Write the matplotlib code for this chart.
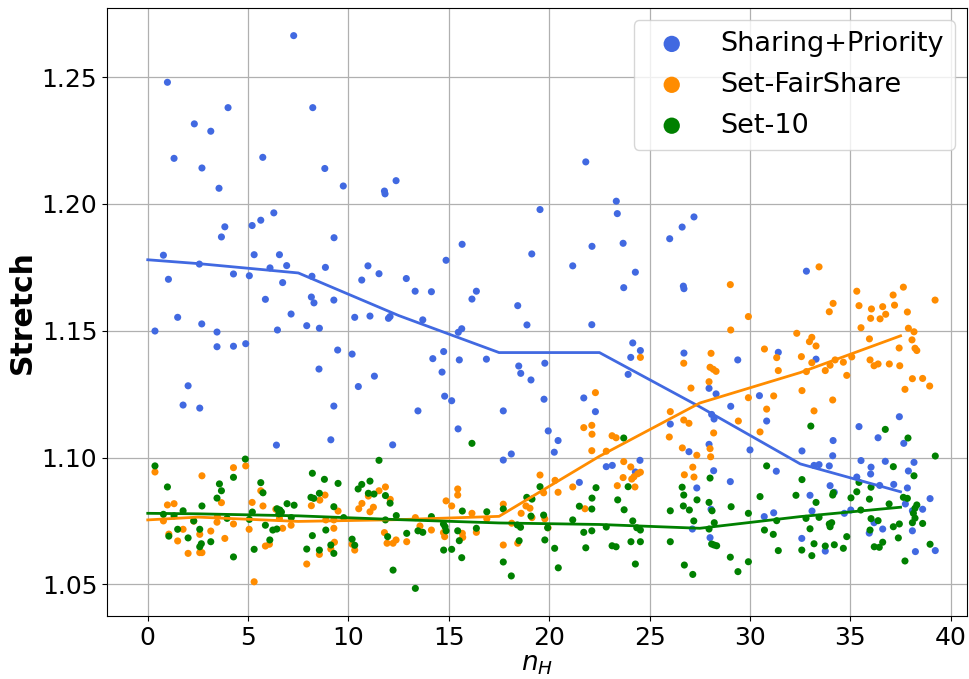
import matplotlib
matplotlib.use("Agg")
import matplotlib.pyplot as plt

# ---------------- data ----------------
sp_x = [7.27, 0.98, 4.0, 8.22, 2.32, 3.14, 1.31, 5.73, 2.70, 8.82, 3.55, 6.28, 5.63, 5.2, 3.84, 3.67, 0.78, 5.3, 6.56, 6.92,
        2.57, 6.09, 8.85, 1.03, 4.27, 5.06, 8.18, 6.72, 5.86, 8.15, 8.28,
        1.49, 2.69, 0.36, 3.45, 7.14, 6.46, 7.92, 8.55, 3.45, 4.27, 4.88, 8.53, 2.01, 1.76, 2.59, 6.41,
        9.74, 12.37, 11.79, 11.82, 9.28, 15.66, 10.97, 11.52, 10.66, 12.88, 14.86, 19.13, 19.54, 13.32, 14.13, 16.37, 16.15, 18.43, 9.27,
        10.31, 11.07, 11.99, 12.07, 13.7, 18.89, 15.47, 15.64, 9.46, 10.18, 14.2, 14.74, 15.52, 16.87, 14.66, 11.29, 10.49, 18.48, 18.58,
        19.09, 14.79, 15.14, 9.27, 13.46, 17.71, 15.46, 9.12, 12.2, 18.11, 17.71,
        21.82, 23.34, 23.39, 27.21, 26.62, 26.0, 22.13, 23.68, 21.17, 24.29, 23.71, 26.68, 26.71,
        22.12, 24.16, 24.54, 24.06, 23.93, 19.78, 19.74, 21.72, 22.3, 19.95, 20.44, 20.25, 26.71, 29.39, 27.96, 28.31, 28.09, 28.21,
        29.04, 26.03, 27.96, 26.96, 30.0, 22.84, 23.14, 24.52, 24.29, 21.5, 28.19, 29.02, 27.35, 28.06, 27.13, 28.01,
        31.41, 33.29, 30.47, 30.83, 37.44, 35.43, 36.38, 37.66, 34.14, 32.59, 34.12, 31.31, 33.19, 33.44, 33.95, 35.53, 36.03, 36.74,
        38.17, 37.89, 36.01, 35.32, 37.16, 36.46, 33.99, 37.84, 34.2, 32.99, 38.97, 37.74, 38.09, 38.6, 35.02, 34.7, 33.09, 31.18,
        30.71, 36.18, 36.61, 35.94, 38.09, 32.58, 33.75, 38.24, 39.23, 32.81]
sp_y = [1.2664, 1.248, 1.238, 1.238, 1.2316, 1.2287, 1.218, 1.2184, 1.2142, 1.214, 1.2062, 1.1965, 1.1936, 1.1915, 1.191, 1.187, 1.1798, 1.180, 1.180, 1.1757,
        1.1763, 1.1748, 1.175, 1.1703, 1.1724, 1.1717, 1.1715, 1.169, 1.1624, 1.1633, 1.161,
        1.1553, 1.1527, 1.1499, 1.1495, 1.1566, 1.1503, 1.152, 1.151, 1.1437, 1.1439, 1.1449, 1.1349, 1.1283, 1.1207, 1.1195, 1.1049,
        1.2071, 1.2092, 1.2051, 1.204, 1.1867, 1.1841, 1.1756, 1.1725, 1.170, 1.1706, 1.1778, 1.1803, 1.1978, 1.1656, 1.1654, 1.1656, 1.1625, 1.1599, 1.1621,
        1.1553, 1.1558, 1.1549, 1.1556, 1.1543, 1.1523, 1.1494, 1.1508, 1.1424, 1.1408, 1.139, 1.1418, 1.1385, 1.1388, 1.1337, 1.1321, 1.128, 1.1361, 1.1332,
        1.1306, 1.1242, 1.1224, 1.1203, 1.1184, 1.1184, 1.1113, 1.107, 1.105, 1.1014, 1.099,
        1.2166, 1.2011, 1.1962, 1.1949, 1.1909, 1.1863, 1.1833, 1.1845, 1.1756, 1.1731, 1.167, 1.1676, 1.1666,
        1.1524, 1.1452, 1.1422, 1.1395, 1.1328, 1.1372, 1.123, 1.1235, 1.1181, 1.1105, 1.1067, 1.1021, 1.1412, 1.1385, 1.1273, 1.1251, 1.117, 1.1152,
        1.1202, 1.1132, 1.1052, 1.1023, 1.103, 1.0964, 1.0969, 1.0989, 1.0943, 1.0902, 1.0948, 1.0905, 1.088, 1.0796, 1.0718, 1.0684,
        1.1415, 1.1388, 1.1244, 1.1144, 1.1161, 1.1122, 1.1078, 1.1056, 1.1067, 1.1026, 1.1007, 1.0946, 1.0969, 1.0972, 1.0967, 1.0988, 1.0962, 1.0985,
        1.0981, 1.0947, 1.0935, 1.0923, 1.0894, 1.089, 1.0889, 1.088, 1.0863, 1.0851, 1.0838, 1.0817, 1.079, 1.0796, 1.0793, 1.078, 1.0789, 1.0782,
        1.0767, 1.0743, 1.0718, 1.0702, 1.0711, 1.0681, 1.0631, 1.0629, 1.0633, 1.1735]

fs_x = [0.36, 2.7, 4.27, 4.88, 5.63, 3.67, 0.98, 1.31, 5.2, 5.74, 3.47, 0.78, 2.29, 3.45, 4.27, 1.76, 3.14, 2.59, 5.05, 1.05,
        1.49, 3.84, 2.01, 2.59, 2.7, 5.3, 5.86, 6.06, 6.56, 6.72, 7.14, 8.15, 8.57, 8.55, 7.92, 8.87, 6.38,
        8.83, 9.48, 9.27, 9.27, 9.12, 9.3, 10.31, 10.18, 10.51, 10.67, 11.07, 11.24, 10.99, 11.52, 11.84, 12.08, 11.79, 11.92, 12.22,
        12.37, 12.9, 13.33, 13.56, 14.13, 14.73, 14.79, 14.86, 15.14, 15.44, 15.44, 15.67, 15.69, 16.15, 16.37, 16.89, 17.71, 17.71,
        18.13, 18.43, 18.6, 18.84, 19.04, 19.54, 19.14,
        29.92, 29.04, 24.54, 26.7, 28.06, 28.01, 28.17, 28.31, 27.96, 27.06, 29.92, 22.3, 26.03, 26.7, 26.96, 29.42, 21.72, 22.12,
        22.13, 25.98, 28.19, 23.13, 23.33, 26.63, 28.01, 28.04, 22.12, 22.84, 27.35, 23.71, 24.06, 27.15, 24.54, 24.41, 24.22, 24.11,
        26.73, 27.21, 23.68, 20.29, 23.39, 24.27, 21.17, 19.72, 20.44, 21.78, 19.78, 19.94, 29.02,
        34.14, 33.95, 35.43, 36.05, 36.61, 37.2, 36.76, 36.01, 36.48, 37.84, 39.22, 35.53, 37.89, 38.17, 32.33, 33.08, 32.96, 33.29,
        35.95, 38.07, 30.72, 37.43, 38.22, 38.31, 31.33, 32.56, 34.24, 34.65, 35.07, 35.98, 36.18, 36.38, 36.94, 37.46, 33.08, 33.99,
        33.75, 32.81, 31.41, 34.82, 38.09, 38.6, 38.95, 37.72, 32.59, 31.18, 34.12, 30.83, 33.19, 30.5, 33.44, 35.32, 37.13, 37.64]
fs_y = [1.0943, 1.0928, 1.096, 1.0967, 1.0869, 1.0822, 1.0813, 1.0818, 1.0823, 1.0809, 1.0767, 1.075, 1.0749, 1.0745, 1.0738, 1.0717, 1.071, 1.0697, 1.0717, 1.0698,
        1.0671, 1.0681, 1.0622, 1.0625, 1.0625, 1.051, 1.0651, 1.0658, 1.076, 1.0721, 1.0733, 1.081, 1.0832, 1.0618, 1.058, 1.0754, 1.0796,
        1.0852, 1.0789, 1.0754, 1.0721, 1.0639, 1.0666, 1.0635, 1.0658, 1.0798, 1.0819, 1.0786, 1.0804, 1.0848, 1.0869, 1.0884, 1.0835, 1.0704, 1.0662, 1.0662,
        1.0675, 1.0668, 1.0763, 1.073, 1.0714, 1.0704, 1.0688, 1.0829, 1.0809, 1.0876, 1.0852, 1.0701, 1.0685, 1.078, 1.0705, 1.0758, 1.0655, 1.0816,
        1.0741, 1.0662, 1.078, 1.0809, 1.08, 1.0931, 1.0763,
        1.1556, 1.1503, 1.1395, 1.1372, 1.1411, 1.1356, 1.1348, 1.134, 1.1299, 1.1274, 1.1236, 1.1256, 1.1181, 1.1148, 1.1135, 1.1144, 1.1118, 1.1127,
        1.1092, 1.1081, 1.1097, 1.1086, 1.1078, 1.1038, 1.1035, 1.1003, 1.1027, 1.1025, 1.1009, 1.0984, 1.0963, 1.0962, 1.0942, 1.0936, 1.0924, 1.0915,
        1.0932, 1.0923, 1.0921, 1.091, 1.0889, 1.0884, 1.0884, 1.0861, 1.0863, 1.0798, 1.0758, 1.0723, 1.1682,
        1.1608, 1.1575, 1.1599, 1.1586, 1.1595, 1.1601, 1.1565, 1.1549, 1.1547, 1.1574, 1.1621, 1.1512, 1.151, 1.1496, 1.149, 1.1474, 1.1457, 1.144,
        1.1468, 1.1464, 1.1428, 1.1432, 1.1431, 1.1422, 1.1394, 1.1398, 1.1385, 1.1376, 1.1397, 1.1385, 1.1362, 1.1369, 1.1369, 1.1362, 1.1374, 1.1364,
        1.1343, 1.1339, 1.1343, 1.1324, 1.1311, 1.1312, 1.1282, 1.1269, 1.1264, 1.1243, 1.1227, 1.1191, 1.1184, 1.1101, 1.1752, 1.1656, 1.1641, 1.1672]

s10_x = [0.36, 4.86, 0.98, 4.27, 3.57, 3.67, 5.63, 5.74, 3.45, 2.7, 1.76, 0.78, 1.31, 2.29, 3.95, 5.21, 5.06, 6.44, 6.58, 6.66,
         6.53, 6.94, 7.29, 7.15, 8.13, 8.27, 8.2, 8.8, 8.55, 1.49, 1.05, 2.59, 2.01, 3.14, 2.59, 2.67, 4.27, 5.3, 5.86, 6.23,
         6.43, 6.08, 7.92, 8.2, 8.55, 8.87,
         9.48, 9.27, 9.76, 9.27, 9.12, 10.18, 10.31, 11.52, 10.48, 10.66, 11.07, 10.99, 11.27, 11.84, 12.07, 12.38, 11.84, 11.95, 12.22,
         12.9, 13.46, 13.7, 13.33, 14.13, 14.73, 14.81, 14.86, 14.74, 15.14, 15.44, 15.52, 15.64, 15.67, 16.15, 16.37, 16.89, 17.71,
         17.71, 18.11, 18.41, 18.57, 18.5, 18.88, 19.14, 19.09, 19.54,
         19.72, 19.92, 19.78, 20.27, 20.45, 21.17, 21.5, 22.13, 22.12, 22.33, 21.72, 22.12, 21.82, 22.84, 23.13, 23.33, 23.41, 23.73,
         23.71, 23.93, 24.16, 24.36, 24.54, 24.07, 24.54, 24.29, 26.03, 26.03, 26.62, 26.7, 26.68, 26.98, 27.36, 27.2, 26.73, 27.15,
         28.01, 27.96, 28.11, 28.22, 27.96, 28.09, 28.21, 28.34, 29.06, 29.02, 29.4, 29.92, 29.92,
         33.03, 36.74, 37.87, 39.23, 30.83, 37.14, 38.17, 32.59, 35.43, 36.03, 35.32, 34.12, 34.15, 32.29, 30.5, 35.03, 35.95, 37.64,
         37.84, 33.29, 36.93, 38.31, 38.22, 35.52, 38.14, 38.22, 38.09, 31.33, 32.79, 33.44, 34.07, 33.99, 33.95, 36.03, 36.38, 35.98,
         37.14, 37.44, 38.6, 30.72, 32.99, 31.16, 34.82, 37.39, 33.19, 33.75, 34.2, 32.58, 34.65, 33.08, 36.19, 36.44, 36.61, 31.41,
         38.97, 37.72]
s10_y = [1.0967, 1.0994, 1.0884, 1.0922, 1.0896, 1.0869, 1.0901, 1.0861, 1.084, 1.0809, 1.079, 1.0776, 1.077, 1.075, 1.076, 1.0785, 1.0756, 1.0798, 1.0793, 1.0785,
         1.0778, 1.0818, 1.0812, 1.0763, 1.0843, 1.0839, 1.0938, 1.0914, 1.0859, 1.0717, 1.069, 1.0717, 1.0683, 1.0668, 1.0648, 1.066, 1.0608, 1.0638, 1.0733, 1.0714,
         1.0718, 1.0675, 1.0639, 1.0692, 1.0635, 1.0714,
         1.0898, 1.0806, 1.0763, 1.0622, 1.0655, 1.0678, 1.0654, 1.0989, 1.0876, 1.0894, 1.0907, 1.0859, 1.0856, 1.085, 1.082, 1.0771, 1.0754, 1.0688, 1.0556,
         1.0701, 1.0711, 1.0705, 1.0484, 1.0767, 1.0738, 1.0727, 1.0711, 1.0635, 1.0638, 1.0711, 1.0672, 1.0605, 1.0789, 1.1056, 1.0721, 1.0786, 1.0797,
         1.0588, 1.0533, 1.0734, 1.0725, 1.0672, 1.0843, 1.0836, 1.0769, 1.0885,
         1.0773, 1.0723, 1.0675, 1.0642, 1.0565, 1.0754, 1.0808, 1.084, 1.0797, 1.0881, 1.0705, 1.0711, 1.0644, 1.0726, 1.0652, 1.0648, 1.0833, 1.0794,
         1.1077, 1.0885, 1.075, 1.0723, 1.0714, 1.0668, 1.0668, 1.058, 1.079, 1.0668, 1.0883, 1.0852, 1.0809, 1.0793, 1.0833, 1.075, 1.0576, 1.0539,
         1.0919, 1.0823, 1.079, 1.0743, 1.0718, 1.0659, 1.0655, 1.0652, 1.0806, 1.0607, 1.055, 1.078, 1.0589,
         1.1124, 1.1111, 1.1077, 1.1006, 1.0967, 1.0964, 1.0928, 1.0913, 1.0902, 1.0883, 1.0865, 1.0852, 1.0861, 1.0851, 1.0846, 1.0841, 1.0836, 1.0843,
         1.0839, 1.0823, 1.0817, 1.0813, 1.08, 1.0793, 1.078, 1.0761, 1.0743, 1.0751, 1.076, 1.0764, 1.0743, 1.0727, 1.0738, 1.0759, 1.0751, 1.0714,
         1.0727, 1.0738, 1.074, 1.0714, 1.0719, 1.0697, 1.0688, 1.0683, 1.066, 1.0651, 1.0656, 1.0635, 1.0642, 1.0613, 1.0648, 1.0646, 1.0666, 1.0633,
         1.0658, 1.0592]

trend_x = [0, 2.5, 7.5, 12.5, 17.5, 22.5, 27.5, 32.5, 37.5]
sp_trend = [1.1780, 1.1765, 1.1728, 1.1560, 1.1414, 1.1414, 1.1200, 1.0975, 1.0865]
fs_trend = [1.0754, 1.0765, 1.0748, 1.0755, 1.0768, 1.1005, 1.1215, 1.1335, 1.1480]
s10_trend = [1.0780, 1.0778, 1.0770, 1.0755, 1.0742, 1.0736, 1.0721, 1.0767, 1.0804]

labels = ["Sharing+Priority", "Set-FairShare", "Set-10"]
colors = ["royalblue", "darkorange", "green"]

xticks = [0, 5, 10, 15, 20, 25, 30, 35, 40]
yticks = [1.05, 1.10, 1.15, 1.20, 1.25]

# ---------------- plot ----------------
fig = plt.figure(figsize=(9.7, 6.79), dpi=100)
ax = fig.add_axes([107 / 970, 1 - 616 / 679, (967 - 107) / 970, (616 - 8) / 679])

series = [(sp_x, sp_y, sp_trend), (fs_x, fs_y, fs_trend), (s10_x, s10_y, s10_trend)]
handles = []
for (xs, ys, tr), lab, col in zip(series, labels, colors):
    h = ax.scatter(xs, ys, s=26, color=col, edgecolors='none', label=lab, zorder=3)
    handles.append(h)
for (xs, ys, tr), col in zip(series, colors):
    ax.plot(trend_x, tr, color=col, lw=2.0, zorder=4)

ax.set_xlim(-2.03, 40.81)
ax.set_ylim(1.0375, 1.2773)
ax.set_xticks(xticks)
ax.set_yticks(yticks)
ax.set_yticklabels([f"{v:.2f}" for v in yticks])
ax.tick_params(labelsize=18)
ax.grid(True, color='#b0b0b0', lw=0.9)
ax.set_axisbelow(True)
ax.set_xlabel("$n_H$", fontsize=19, labelpad=1)
ax.set_ylabel("Stretch", fontsize=21.5, fontweight='bold', labelpad=3)

ax.legend(handles=handles, loc='upper right', fontsize=19.5, markerscale=2.3,
          borderaxespad=0.45, labelspacing=0.55, framealpha=0.8)

fig.savefig("out.png", dpi=100)
